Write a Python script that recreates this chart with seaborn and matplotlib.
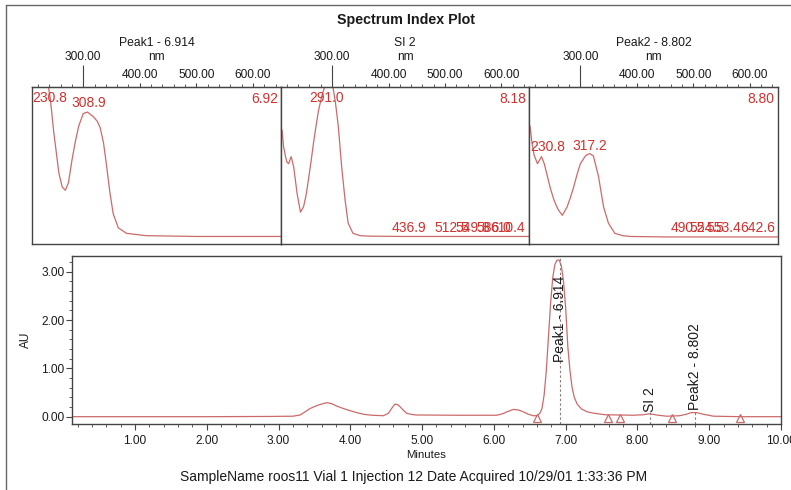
import matplotlib
matplotlib.use("Agg")
import matplotlib.pyplot as plt
import seaborn as sns
from matplotlib.ticker import MultipleLocator, FormatStrFormatter, FixedLocator
from matplotlib.lines import Line2D

# ---------------- data ----------------
title = "Spectrum Index Plot"
spectrum_names = ["Peak1 - 6.914", "SI 2", "Peak2 - 8.802"]
spectrum_times = ["6.92", "8.18", "8.80"]

peak1_nm = [209.5, 215, 222, 228, 231, 235, 239, 242, 248, 257, 263, 268.5, 274, 280, 286,
            292, 300, 307.5, 318, 325, 330, 336, 341.5, 347, 353, 362, 376.5, 411.5, 500, 649.5]
peak1_abs = [1.20, 1.28, 1.32, 1.33, 1.33, 1.20, 0.99, 0.92, 0.71, 0.45, 0.36, 0.34, 0.39, 0.53, 0.65,
             0.75, 0.83, 0.84, 0.81, 0.78, 0.74, 0.64, 0.49, 0.33, 0.19, 0.10, 0.065, 0.05, 0.045, 0.045]

si2_nm = [209.5, 211.5, 214, 217.5, 220, 223, 227.5, 232, 238, 244, 249.5, 254, 258, 263, 267, 272,
          276, 281, 285, 289, 293, 297, 302, 306, 311, 317, 323, 328.5, 337, 350, 366, 420, 649.5]
si2_abs = [0.74, 0.72, 0.62, 0.555, 0.52, 0.51, 0.555, 0.49, 0.32, 0.20, 0.235, 0.31, 0.405, 0.53, 0.64, 0.76,
           0.85, 0.93, 0.98, 1.02, 1.03, 1.02, 0.99, 0.90, 0.75, 0.49, 0.28, 0.13, 0.065, 0.05, 0.047, 0.045, 0.045]

peak2_nm = [209.5, 211, 214, 218, 224, 231, 236, 241.5, 247, 253, 260, 268, 276.6, 282, 288, 294,
            300, 309, 316, 323, 332, 341, 349.6, 361, 375, 388, 450, 649.5]
peak2_abs = [0.76, 0.745, 0.65, 0.565, 0.51, 0.555, 0.51, 0.43, 0.35, 0.28, 0.22, 0.18, 0.235, 0.29, 0.36, 0.44,
             0.51, 0.56, 0.575, 0.56, 0.43, 0.235, 0.13, 0.065, 0.05, 0.045, 0.042, 0.042]

# wavelength annotations (value, text) per spectrum
peak1_top_labels = ["230.8", "308.9"]
si2_top_labels = ["291.0"]
si2_bottom_labels = ["436.9", "512.5", "549.8", "586.0", "610.4"]
peak2_top_labels = ["230.8", "317.2"]
peak2_bottom_labels = ["490.5", "524.5", "553.4", "642.6"]

wl_major_ticks = [400, 500, 600]
wl_index_tick = [300]

minutes = [0.122, 1.0, 2.0, 2.88, 3.20, 3.30, 3.38, 3.44, 3.55, 3.67, 3.74, 3.81, 3.90, 3.995, 4.10, 4.18,
           4.30, 4.46, 4.53, 4.58, 4.62, 4.66, 4.69, 4.74, 4.785, 4.86, 4.92, 5.50, 6.04, 6.12, 6.18, 6.27,
           6.34, 6.41, 6.48, 6.55, 6.60, 6.64, 6.67, 6.70, 6.73, 6.76, 6.79, 6.82, 6.85, 6.88, 6.91, 6.94,
           6.97, 7.00, 7.03, 7.06, 7.09, 7.12, 7.16, 7.22, 7.30, 7.40, 7.55, 7.94, 8.08, 8.17, 8.29, 8.41,
           8.59, 8.68, 8.75, 8.82, 8.92, 9.06, 9.43, 10.0]
au = [0.0, 0.0, 0.0, 0.005, 0.01, 0.035, 0.11, 0.17, 0.24, 0.29, 0.27, 0.22, 0.17, 0.125, 0.08, 0.05,
      0.03, 0.02, 0.07, 0.18, 0.26, 0.25, 0.21, 0.13, 0.07, 0.045, 0.035, 0.03, 0.03, 0.06, 0.10, 0.15,
      0.14, 0.10, 0.05, 0.02, 0.02, 0.07, 0.17, 0.45, 0.95, 1.65, 2.35, 2.88, 3.15, 3.24, 3.24, 3.12,
      2.80, 2.25, 1.45, 0.95, 0.60, 0.40, 0.26, 0.16, 0.10, 0.07, 0.04, 0.03, 0.04, 0.06, 0.03, 0.01,
      0.02, 0.05, 0.085, 0.085, 0.05, 0.01, 0.0, 0.0]

peak_names = ["Peak1 - 6.914", "SI 2", "Peak2 - 8.802"]
peak_times = [6.914, 8.18, 8.802]
peak_apex_au = [3.28, 0.14, 0.14]
label_base_au = [1.14, 0.09, 0.14]

marker_times = [6.60, 7.59, 7.76, 8.48, 9.43]
marker_au = [-0.03, -0.03, -0.03, -0.03, -0.03]

min_ticks = [1, 2, 3, 4, 5, 6, 7, 8, 9, 10]
au_ticks = [0, 1, 2, 3]

caption = "SampleName roos11 Vial 1 Injection 12 Date Acquired 10/29/01 1:33:36 PM"

# ---------------- style ----------------
sns.set_style("white")
plt.rcParams["font.family"] = ["Liberation Sans", "DejaVu Sans"]

CURVE = "#cc6a6a"
RED = "#d4302e"
SPINE = "#444444"
TXT = "#1a1a1a"

W, H = 791, 490
fig = plt.figure(figsize=(W / 100, H / 100), dpi=100)
fig.patch.set_facecolor("white")


def px_rect(x0, y0, x1, y1):
    return [x0 / W, 1 - y1 / H, (x1 - x0) / W, (y1 - y0) / H]


# outer frame
fig.add_artist(Line2D([6 / W, 6 / W], [0, 1 - 5 / H], transform=fig.transFigure, color="#666", lw=1))
fig.add_artist(Line2D([6 / W, 1], [1 - 5 / H, 1 - 5 / H], transform=fig.transFigure, color="#666", lw=1))

fig.text(405.7 / W, 1 - 20 / H, title, ha="center", va="center", fontsize=10.3,
         fontweight="bold", color=TXT)

panel_px = [(32, 87, 281, 243.5), (281, 87, 529.3, 243.5), (529.3, 87, 777.7, 243.5)]
spectra = [
    (peak1_nm, peak1_abs, peak1_top_labels, []),
    (si2_nm, si2_abs, si2_top_labels, si2_bottom_labels),
    (peak2_nm, peak2_abs, peak2_top_labels, peak2_bottom_labels),
]
# (text y in axes fraction) for the top labels of each panel
top_label_y = [[0.93, 0.90], [0.93], [0.617, 0.623]]

for i, (rect, (nm, ab, tops, bottoms)) in enumerate(zip(panel_px, spectra)):
    ax = fig.add_axes(px_rect(*rect))
    sns.lineplot(x=nm, y=ab, ax=ax, color=CURVE, linewidth=0.9, estimator=None, sort=False)
    ax.set_xlim(209.5, 649.5)
    ax.set_ylim(0, 1)
    ax.set_xlabel("")
    ax.set_ylabel("")
    ax.set_yticks([])
    for sp in ax.spines.values():
        sp.set_color(SPINE)
        sp.set_linewidth(1.0)
    ax.xaxis.set_ticks_position("top")
    ax.xaxis.set_major_locator(FixedLocator(wl_major_ticks))
    ax.xaxis.set_major_formatter(FormatStrFormatter("%.2f"))
    ax.xaxis.set_minor_locator(MultipleLocator(20))
    ax.tick_params(axis="x", which="major", top=True, bottom=False, labeltop=True, labelbottom=False,
                   length=3, width=0.8, pad=1.5, labelsize=8.6, colors=SPINE, labelcolor=TXT)
    ax.tick_params(axis="x", which="minor", top=True, bottom=False, length=2, width=0.6, colors=SPINE)
    sec = ax.secondary_xaxis("top")
    sec.xaxis.set_major_locator(FixedLocator(wl_index_tick))
    sec.xaxis.set_major_formatter(FormatStrFormatter("%.2f"))
    sec.tick_params(axis="x", length=16, width=0.8, pad=1.5, labelsize=8.6, colors=SPINE, labelcolor=TXT)
    sec.spines["top"].set_color(SPINE)

    ax.text(0.5, 1.279, spectrum_names[i], transform=ax.transAxes, ha="center", va="center",
            fontsize=8.7, color=TXT)
    ax.text(0.5, 1.192, "nm", transform=ax.transAxes, ha="center", va="center", fontsize=8.6, color=TXT)
    ax.text(0.988, 0.923, spectrum_times[i], transform=ax.transAxes, ha="right", va="center",
            fontsize=10, color=RED)

    for j, lab in enumerate(tops):
        v = float(lab)
        if v - 8 < 209.5 + 15:
            ax.text(0.003, top_label_y[i][j], lab, transform=ax.get_yaxis_transform().__class__(ax.transAxes, ax.transAxes) if False else ax.transAxes,
                    ha="left", va="center", fontsize=10, color=RED)
        else:
            ax.text(v, top_label_y[i][j], lab, transform=ax.get_xaxis_transform(), ha="center",
                    va="center", fontsize=10, color=RED)
    for lab in bottoms:
        v = float(lab)
        if v + 20 > 649.5:
            ax.text(0.989, 0.097, lab, transform=ax.transAxes, ha="right", va="center",
                    fontsize=10, color=RED)
        else:
            ax.text(v, 0.097, lab, transform=ax.get_xaxis_transform(), ha="center", va="center",
                    fontsize=10, color=RED)

# ---------------- chromatogram ----------------
axc = fig.add_axes(px_rect(72, 256.3, 781, 423.5))
sns.lineplot(x=minutes, y=au, ax=axc, color=CURVE, linewidth=0.9, estimator=None, sort=False)
axc.set_xlim(0.122, 10.0)
axc.set_ylim(-0.141, 3.319)
for sp in axc.spines.values():
    sp.set_color(SPINE)
    sp.set_linewidth(1.0)

axc.vlines(peak_times, -0.141, peak_apex_au, colors="#8a7f7f", linestyles=(0, (2.2, 2.0)), linewidth=0.8)
for name, t, yb in zip(peak_names, peak_times, label_base_au):
    axc.text(t, yb, name, rotation=90, ha="center", va="bottom", fontsize=10, color=TXT)

axc.plot(marker_times, marker_au, ls="none", marker="^", markersize=6, markerfacecolor="none",
         markeredgecolor=CURVE, markeredgewidth=0.9, clip_on=False)

axc.xaxis.set_major_locator(FixedLocator(min_ticks))
axc.xaxis.set_minor_locator(MultipleLocator(0.2))
axc.xaxis.set_major_formatter(FormatStrFormatter("%.2f"))
axc.yaxis.set_major_locator(FixedLocator(au_ticks))
axc.yaxis.set_minor_locator(MultipleLocator(0.2))
axc.yaxis.set_major_formatter(FormatStrFormatter("%.2f"))
axc.tick_params(axis="x", which="major", bottom=True, length=4, width=0.8, pad=4, labelsize=8.6,
                colors=SPINE, labelcolor=TXT)
axc.tick_params(axis="x", which="minor", bottom=True, length=2.5, width=0.6, colors=SPINE)
axc.tick_params(axis="y", which="major", left=True, length=4, width=0.8, pad=1.5, labelsize=8.6,
                colors=SPINE, labelcolor=TXT)
axc.tick_params(axis="y", which="minor", left=True, length=2.5, width=0.6, colors=SPINE)

axc.set_xlabel("Minutes", fontsize=8.2, color=TXT)
axc.xaxis.set_label_coords(0.5, -0.158)
axc.set_ylabel("AU", fontsize=8.6, color=TXT)
axc.yaxis.set_label_coords(-0.0564, 0.5)

fig.text(414 / W, 1 - 477 / H, caption, ha="center", va="center", fontsize=10, color=TXT)

fig.savefig("out.png", dpi=100, facecolor="white")
